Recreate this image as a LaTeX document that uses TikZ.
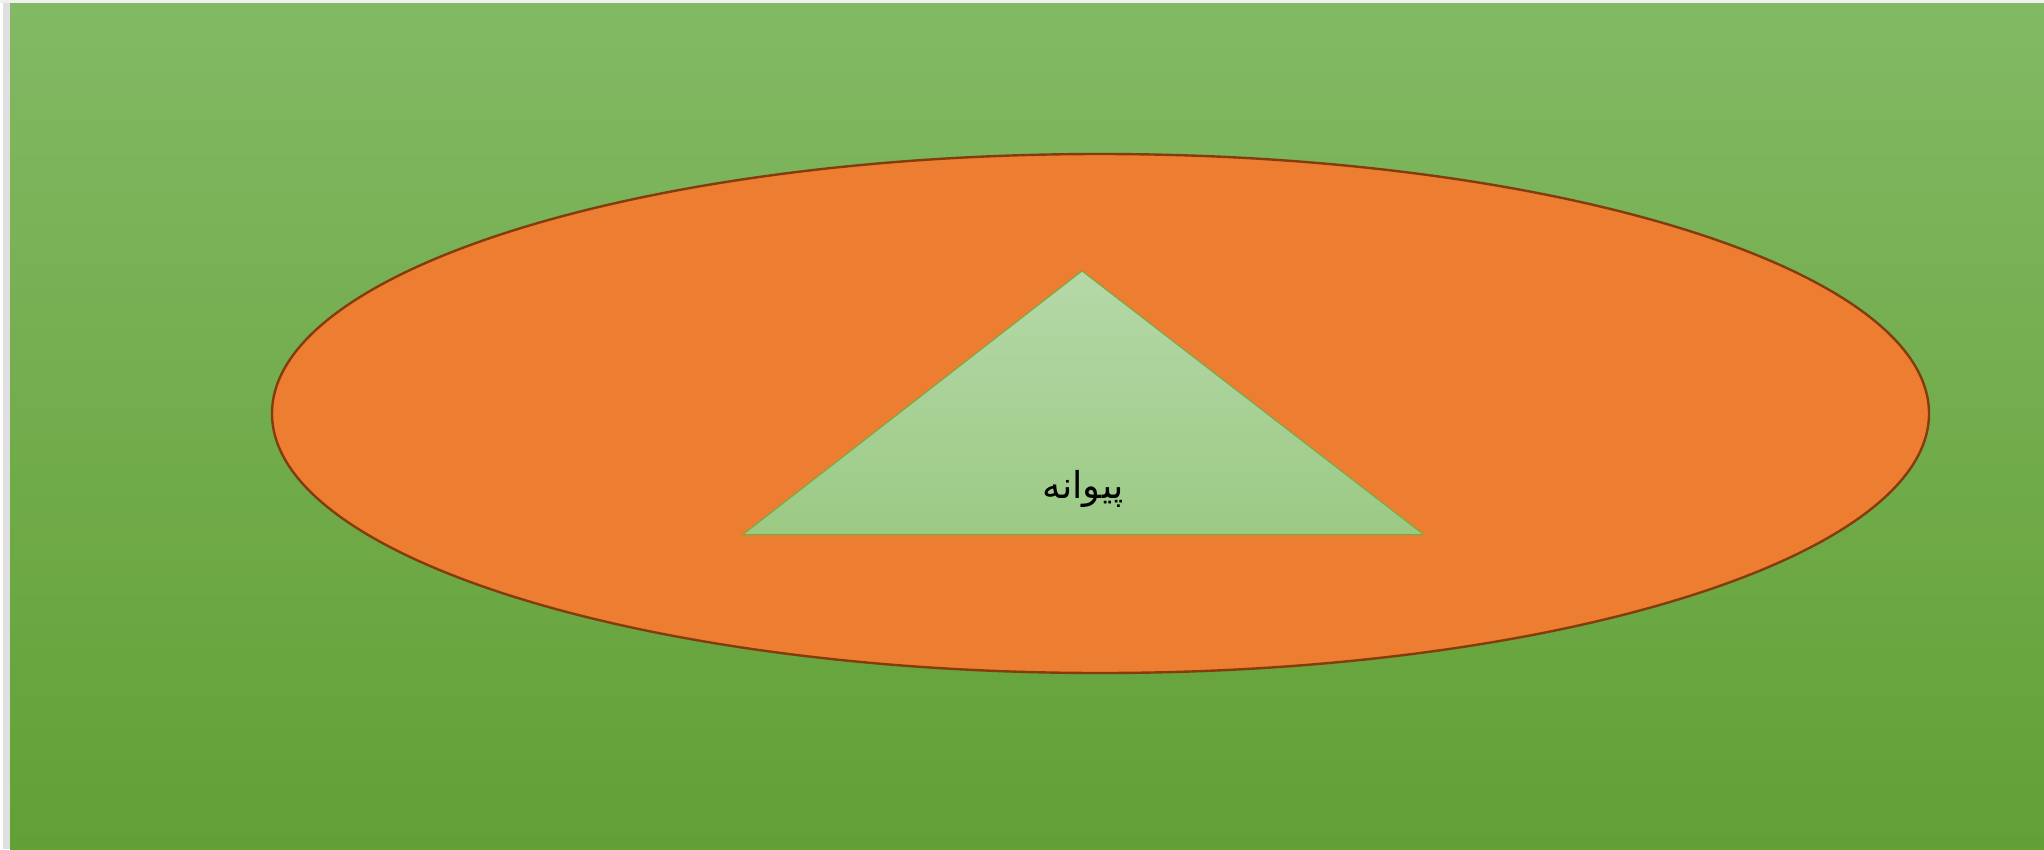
\documentclass[tikz,border=0pt]{standalone}
\usepackage{fontspec}
\newfontfamily\arabicfont[Script=Arabic]{DejaVu Sans}
\TeXXeTstate=1
\definecolor{bgtop}{HTML}{82B964}
\definecolor{bgbot}{HTML}{62A035}
\definecolor{ellfill}{HTML}{ED7D31}
\definecolor{elldraw}{HTML}{843C0C}
\definecolor{tritop}{HTML}{B5D8A8}
\definecolor{tribot}{HTML}{9BCA84}
\definecolor{triedge}{HTML}{70AD47}
\begin{document}
\begin{tikzpicture}[x=1pt,y=-1pt,
  ellipsestyle/.style={fill=ellfill,draw=elldraw,line width=2.4pt},
  trianglestyle/.style={top color=tritop,bottom color=tribot,draw=triedge,line width=1pt},
  labelstyle/.style={font=\arabicfont\fontsize{37}{44}\selectfont,text=black}]
\useasboundingbox (0,0) rectangle (2044,849);
\fill[white] (0,0) rectangle (2044,849);
% shadow
\fill[gray!25] (3,0) rectangle (10,849);
\fill[gray!12] (0,0) rectangle (2044,3);
% background
\shade[top color=bgtop,bottom color=bgbot] (10,3) rectangle (2044,849);
% ellipse
\coordinate (ellc) at (1100.5,413.5);
\draw[ellipsestyle] (ellc) ellipse [x radius=828.5, y radius=259.5];
% triangle
\coordinate (apex) at (1082,271);
\coordinate (bl) at (743,534.5);
\coordinate (br) at (1423.5,534.5);
\path[trianglestyle] (apex) -- (br) -- (bl) -- cycle;
\node[labelstyle] (lbl) at (1083,489) {\beginR پیوانه\endR};
\end{tikzpicture}
\end{document}
